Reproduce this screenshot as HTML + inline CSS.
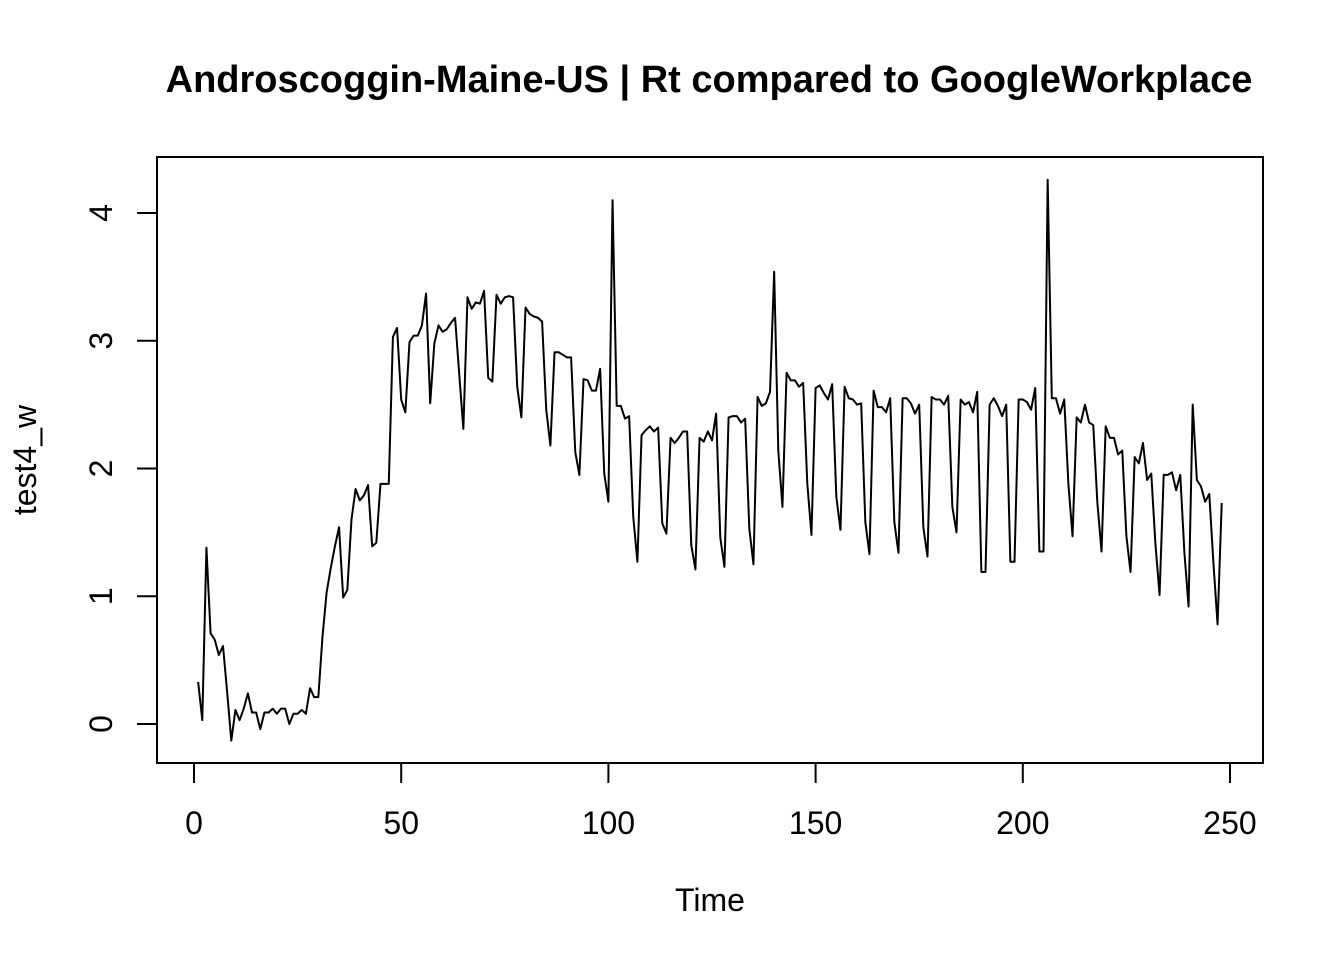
<!DOCTYPE html>
<html><head><meta charset="utf-8"><style>
html,body{margin:0;padding:0;background:#fff;}
svg{display:block;font-family:"Liberation Sans",Arial,sans-serif;}
</style></head><body>
<svg id="chart" width="1344" height="960" viewBox="0 0 1344 960" xmlns="http://www.w3.org/2000/svg">
<rect x="0" y="0" width="1344" height="960" fill="#fff"/>
<text x="709" y="92" text-anchor="middle" font-size="38" font-weight="bold">Androscoggin-Maine-US | Rt compared to GoogleWorkplace</text>
<rect x="157" y="157" width="1106" height="606" fill="none" stroke="#000" stroke-width="2"/>
<g id="xaxis"></g>
<g id="yaxis"></g>
<text x="710" y="911" text-anchor="middle" font-size="32">Time</text>
<text x="0" y="0" transform="translate(36,460) rotate(-90)" text-anchor="middle" font-size="32">test4_w</text>
<path id="series" fill="none" stroke="#000" stroke-width="2" stroke-linejoin="round"/>
</svg>
<script>
const xTicks=[0,50,100,150,200,250];
const yTicks=[0,1,2,3,4];
const values=[0.33,0.03,1.38,0.71,0.66,0.54,0.61,0.25,-0.13,0.11,0.03,0.12,0.24,0.09,0.09,-0.04,0.09,0.09,0.12,0.08,
0.12,0.12,0.00,0.08,0.08,0.11,0.08,0.28,0.21,0.21,0.68,1.03,1.22,1.39,1.54,0.99,1.05,1.60,1.84,1.75,
1.79,1.87,1.39,1.42,1.88,1.88,1.88,3.03,3.10,2.54,2.44,2.99,3.04,3.04,3.12,3.37,2.51,2.98,3.12,3.07,
3.09,3.14,3.18,2.74,2.31,3.34,3.25,3.30,3.29,3.39,2.71,2.68,3.36,3.29,3.34,3.35,3.34,2.64,2.40,3.26,
3.21,3.19,3.18,3.15,2.46,2.18,2.91,2.91,2.89,2.87,2.87,2.13,1.95,2.70,2.69,2.61,2.61,2.78,1.96,1.74,
4.10,2.49,2.49,2.39,2.41,1.62,1.27,2.26,2.30,2.33,2.29,2.32,1.57,1.49,2.24,2.20,2.24,2.29,2.29,1.40,
1.21,2.24,2.21,2.29,2.22,2.43,1.46,1.23,2.40,2.41,2.41,2.36,2.39,1.53,1.25,2.56,2.49,2.51,2.60,3.54,
2.14,1.70,2.75,2.69,2.69,2.64,2.67,1.88,1.48,2.63,2.65,2.59,2.54,2.66,1.78,1.52,2.64,2.55,2.54,2.50,
2.51,1.58,1.33,2.61,2.48,2.48,2.44,2.55,1.58,1.34,2.55,2.55,2.51,2.43,2.50,1.54,1.31,2.56,2.54,2.54,
2.50,2.57,1.70,1.50,2.54,2.50,2.52,2.44,2.60,1.19,1.19,2.50,2.55,2.49,2.41,2.50,1.27,1.27,2.54,2.54,
2.52,2.46,2.63,1.35,1.35,4.26,2.55,2.55,2.43,2.54,1.88,1.47,2.40,2.36,2.50,2.36,2.34,1.73,1.35,2.33,
2.24,2.24,2.11,2.14,1.47,1.19,2.09,2.04,2.20,1.91,1.96,1.41,1.01,1.95,1.95,1.97,1.83,1.95,1.34,0.92,
2.50,1.91,1.86,1.74,1.80,1.26,0.78,1.73];
const NS="http://www.w3.org/2000/svg";
function sx(t){return 194+(t)*(1230-194)/250;}
function sy(v){return 724-v*(724-213)/4;}
const xa=document.getElementById('xaxis');
const ya=document.getElementById('yaxis');
function mk(tag,attrs,parent){const e=document.createElementNS(NS,tag);for(const k in attrs)e.setAttribute(k,attrs[k]);parent.appendChild(e);return e;}
let xl=mk('line',{x1:sx(xTicks[0]),x2:sx(xTicks[xTicks.length-1]),y1:763,y2:763,stroke:'#000','stroke-width':2},xa);


xTicks.forEach(t=>{
  const l=mk('line',{x1:sx(t),x2:sx(t),y1:763,y2:783,stroke:'#000','stroke-width':2},xa);
  
  
  const tx=mk('text',{x:sx(t),y:834,'text-anchor':'middle','font-size':32},xa);
  tx.textContent=String(t);
  
  
});
let yl=mk('line',{x1:157,x2:157,y1:sy(yTicks[0]),y2:sy(yTicks[yTicks.length-1]),stroke:'#000','stroke-width':2},ya);


yTicks.forEach(v=>{
  const l=mk('line',{x1:137,x2:157,y1:sy(v),y2:sy(v),stroke:'#000','stroke-width':2},ya);
  
  
  const tx=mk('text',{x:0,y:0,transform:'translate(112,'+sy(v)+') rotate(-90)','text-anchor':'middle','font-size':32},ya);
  tx.textContent=String(v);
  
  
});
let d='';
values.forEach((v,i)=>{d+=(i?'L':'M')+sx(i+1).toFixed(2)+' '+sy(v).toFixed(2)+' ';});
document.getElementById('series').setAttribute('d',d);
</script>
</body></html>
